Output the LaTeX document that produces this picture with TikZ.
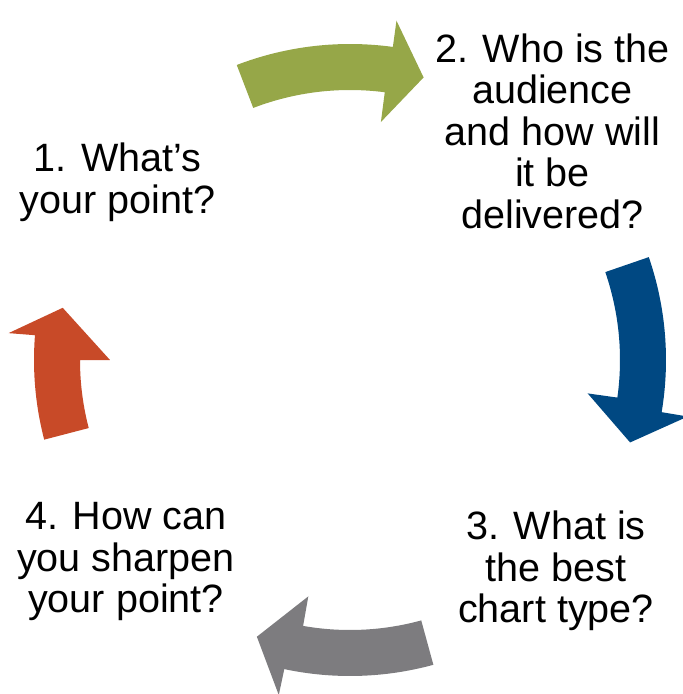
\documentclass[tikz,border=0pt]{standalone}
\usepackage{fontspec}
\setmainfont{Liberation Sans}
\usepackage{tikz}
\definecolor{cyclegreen}{RGB}{150,167,72}
\definecolor{cycleblue}{RGB}{0,72,130}
\definecolor{cyclegray}{RGB}{125,124,127}
\definecolor{cycleorange}{RGB}{200,74,40}
\def\cyclearrow[#1](#2:#3:#4:#5){\fill[#1] (#2:5.4) arc (#2:#3:5.4) -- (#3:4.8) -- (#5:5.84) -- (#4:6.85) -- (#4:6.32) arc (#4:#2:6.32) -- cycle;}

\begin{document}
\begin{tikzpicture}[steptext/.style={align=center, font=\fontsize{22.5}{23.6}\selectfont}]
		%%%%% START %%%%%
		
		\useasboundingbox (-7.0, -6.68) rectangle (6.66, 7.2);
		
		\cyclearrow[cyclegreen](111:82.6:82.2:75.4)
		\cyclearrow[cycleblue](19:-8:-9.5:-16.4)
		\cyclearrow[cyclegray](-74.7:-100:-102:-108.6)
		\cyclearrow[cycleorange](194.6:180:175.5:169.7)
		
		\node[steptext] (point) at (-4.65, 3.55) {1. What’s\\your point?};
		\node[steptext] (audience) at (4.05, 4.58) {2. Who is the\\audience\\and how will\\it be\\delivered?};
		\node[steptext] (chart) at (4.12, -4.22) {3. What is\\the best\\chart type?};
		\node[steptext] (sharpen) at (-4.48, -4.03) {4. How can\\you sharpen\\your point?};
		
		%%%%% END %%%%%
\end{tikzpicture}
\end{document}
